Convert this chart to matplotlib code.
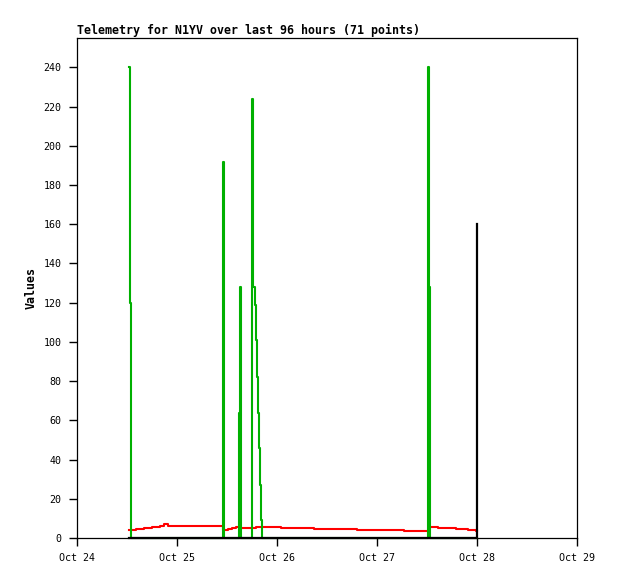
import matplotlib.pyplot as plt

# hours since Oct 24 00:00
hours = [12.5, 12.7, 12.9, 14.2, 16.1, 18.0, 19.9, 20.9, 21.8, 35.0,
         35.2, 36.2, 37.2, 38.2, 38.9, 39.05, 39.3, 42.0, 42.35, 42.6,
         42.85, 43.1, 43.35, 43.6, 43.85, 44.1, 44.35, 49.0, 56.9, 67.2,
         78.5, 84.2, 84.45, 84.65, 86.6, 91.0, 93.8, 95.8, 96.0]
red = [4.1, 4.1, 4.1, 4.4, 5.0, 5.5, 6.0, 7.0, 6.0, 4.1,
       4.1, 4.6, 5.0, 5.4, 5.0, 5.0, 5.0, 5.0, 5.0, 5.0,
       5.8, 5.8, 5.8, 5.8, 5.8, 5.8, 5.8, 5.1, 4.6, 4.1,
       3.6, 3.6, 5.6, 5.6, 5.1, 4.6, 3.9, 3.5, 3.5]
green = [240, 120, 0, 0, 0, 0, 0, 0, 0, 192,
         0, 0, 0, 0, 64, 128, 0, 224, 128, 119,
         101, 82, 64, 46, 27, 9, 0, 0, 0, 0,
         0, 240, 128, 0, 0, 0, 0, 0, 0]
black = [0] * 38 + [160]

day_ticks = [0, 24, 48, 72, 96, 120]
day_labels = ["Oct 24", "Oct 25", "Oct 26", "Oct 27", "Oct 28", "Oct 29"]
y_ticks = list(range(0, 241, 20))

mono = "DejaVu Sans Mono"

fig = plt.figure(figsize=(6.18, 5.79), dpi=100)
ax = fig.add_axes([77 / 618, 1 - 538 / 579, 500 / 618, 500 / 579])

ax.plot(hours, red, color="#ff0000", lw=1.5, drawstyle="steps-post", zorder=2, clip_on=False)
ax.plot(hours, green, color="#00b000", lw=1.5, drawstyle="steps-post", zorder=3, clip_on=False)
ax.plot(hours, black, color="black", lw=1.6, drawstyle="steps-post", zorder=4, clip_on=False)

ax.set_xlim(0, 120)
ax.set_ylim(0, 255)
ax.set_xticks(day_ticks)
ax.set_xticklabels(day_labels, fontfamily=mono, fontsize=7.2)
ax.set_yticks(y_ticks)
ax.set_yticklabels([str(v) for v in y_ticks], fontfamily=mono, fontsize=7.2)
ax.tick_params(direction="out", length=6, width=1, pad=5)
for sp in ax.spines.values():
    sp.set_linewidth(0.9)

ax.set_ylabel("Values", fontfamily=mono, fontweight="bold", fontsize=8.4, labelpad=4)
ax.set_title("Telemetry for N1YV over last 96 hours (71 points)", loc="left",
             fontfamily=mono, fontweight="bold", fontsize=8.4, pad=3)

fig.savefig("out.png", dpi=100)
